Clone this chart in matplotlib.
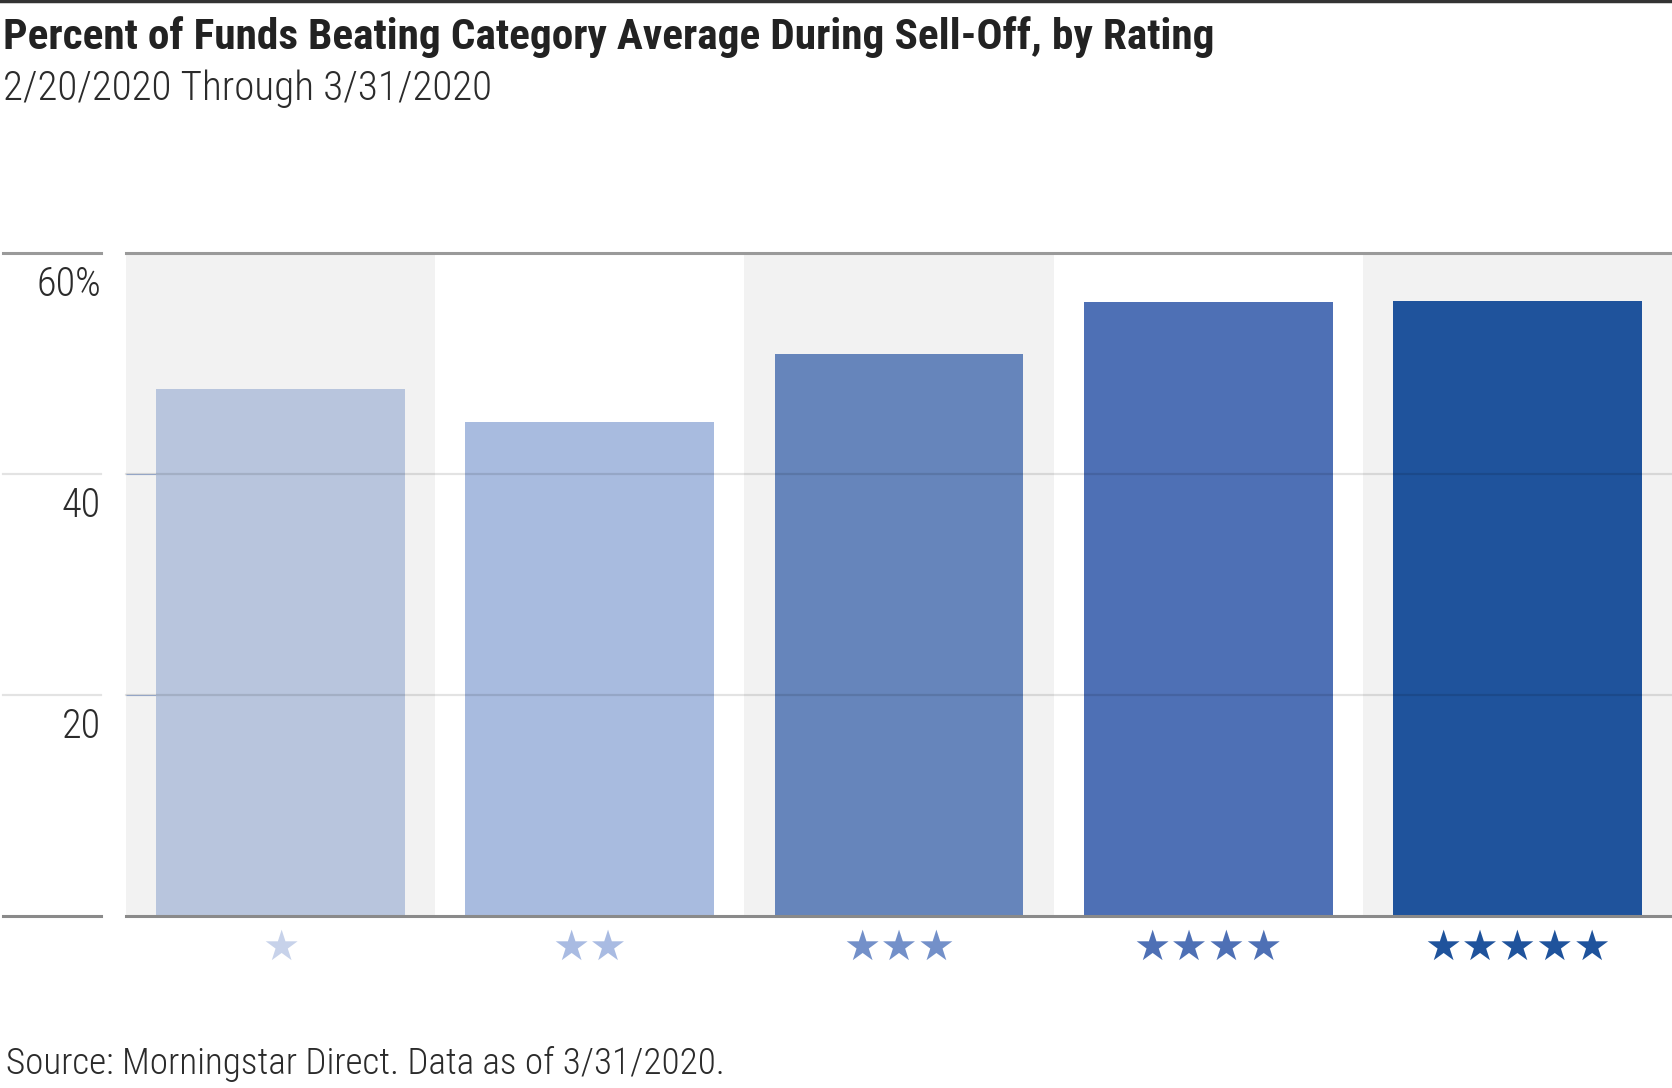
import matplotlib.pyplot as plt
import matplotlib.font_manager as fm
from matplotlib.lines import Line2D

# Data
ratings = [1, 2, 3, 4, 5]
pct_beating = [47.7, 44.7, 50.9, 55.6, 55.7]
bar_colors = ["#b8c5dd", "#a8bbdf", "#6685bb", "#4e70b5", "#1f539c"]
star_colors = ["#c7d2ea", "#a9bbe2", "#7390c9", "#4e70b5", "#1f539c"]
yticks = [20, 40, 60]
ytick_labels = ["20", "40", "60%"]

title = "Percent of Funds Beating Category Average During Sell-Off, by Rating"
subtitle = "2/20/2020 Through 3/31/2020"
source = "Source: Morningstar Direct. Data as of 3/31/2020."

# pick a narrow font if one is installed
fonts = fm.fontManager.ttflist
names = {f.name for f in fonts}
font = {"family": "DejaVu Sans"}
shrink = 0.74
for cand in ["Roboto Condensed", "Liberation Sans Narrow", "Open Sans Condensed",
             "DejaVu Sans Condensed", "Noto Sans Condensed"]:
    if cand in names:
        font = {"family": cand}
        shrink = 1.0
        break
else:
    for f in fonts:
        if f.stretch in ("condensed", "semi-condensed", "extra-condensed") and f.name in (
                "DejaVu Sans", "Noto Sans", "Roboto", "Open Sans", "Inter", "Liberation Sans"):
            font = {"family": f.name, "stretch": "condensed"}
            shrink = 0.88
            break

plt.rcParams["font.family"] = [font["family"], "DejaVu Sans"]
stretch = font.get("stretch", "normal")

fig = plt.figure(figsize=(16.72, 10.88), dpi=100)
W, H = 1672, 1088

# axes placed in pixel terms
left, right, top, bottom = 126, 1672, 253, 916
ax = fig.add_axes([left / W, 1 - bottom / H, (right - left) / W, (bottom - top) / H])

x = list(range(len(ratings)))

# alternating column shading
for i in x:
    if i % 2 == 0:
        ax.axvspan(i - 0.5, i + 0.5, color="#f2f2f2", lw=0, zorder=0)

ax.bar(x, pct_beating, width=0.805, color=bar_colors, zorder=2)

ax.set_xlim(-0.5, len(ratings) - 0.5)
ax.set_ylim(0, 60)
for s in ax.spines.values():
    s.set_visible(False)
ax.set_xticks([])
ax.set_yticks(yticks)
ax.tick_params(axis="y", direction="in", length=28, width=0.8, color="#a8bbdf", labelleft=False)

# gridlines (drawn over bars, also extended into the label gutter)
trans = ax.get_yaxis_transform()
gx0 = (3 - left) / (right - left)
gx1 = (101 - left) / (right - left)
for v in [0] + yticks:
    if v == 60:
        c, lw, a = "#9a9a9a", 2.2, 1.0
    elif v == 0:
        c, lw, a = "#8a8a8a", 2.2, 1.0
    else:
        c, lw, a = "#000000", 1.6, 0.11
    ax.plot([0, 1], [v, v], transform=trans, color=c, lw=lw, alpha=a, zorder=3, clip_on=False)
    ax.plot([gx0, gx1], [v, v], transform=trans, color=c, lw=lw, alpha=a, zorder=3, clip_on=False)

# y labels sit just under their line
for v, lab in zip(yticks, ytick_labels):
    ax.annotate(lab, xy=(gx1, v), xycoords=trans, xytext=(0, -9), textcoords="offset points",
                ha="right", va="top", fontsize=29 * shrink, fontweight="light",
                fontstretch=stretch, color="#2b2b2b")

# star labels under each bar
for i, n in enumerate(ratings):
    ax.annotate("\u2605" * n, xy=(i, 0), xycoords=("data", "data"), xytext=(0, -8),
                textcoords="offset points", ha="center", va="top", fontsize=30,
                color=star_colors[i], family="DejaVu Sans", annotation_clip=False)

# top rule
fig.add_artist(Line2D([0, 1], [1 - 1 / H, 1 - 1 / H], color="#333333", lw=2.5))

fig.text(3 / W, 1 - 16 / H, title, ha="left", va="top", fontsize=31.2 * shrink,
         fontweight="bold", fontstretch=stretch, color="#222222")
fig.text(3 / W, 1 - 69 / H, subtitle, ha="left", va="top", fontsize=29.6 * shrink,
         fontweight="light", fontstretch=stretch, color="#2b2b2b")
fig.text(6 / W, 1 - 1046 / H, source, ha="left", va="top", fontsize=26.7 * shrink,
         fontweight="light", fontstretch=stretch, color="#2b2b2b")

fig.savefig("out.png", dpi=100)
